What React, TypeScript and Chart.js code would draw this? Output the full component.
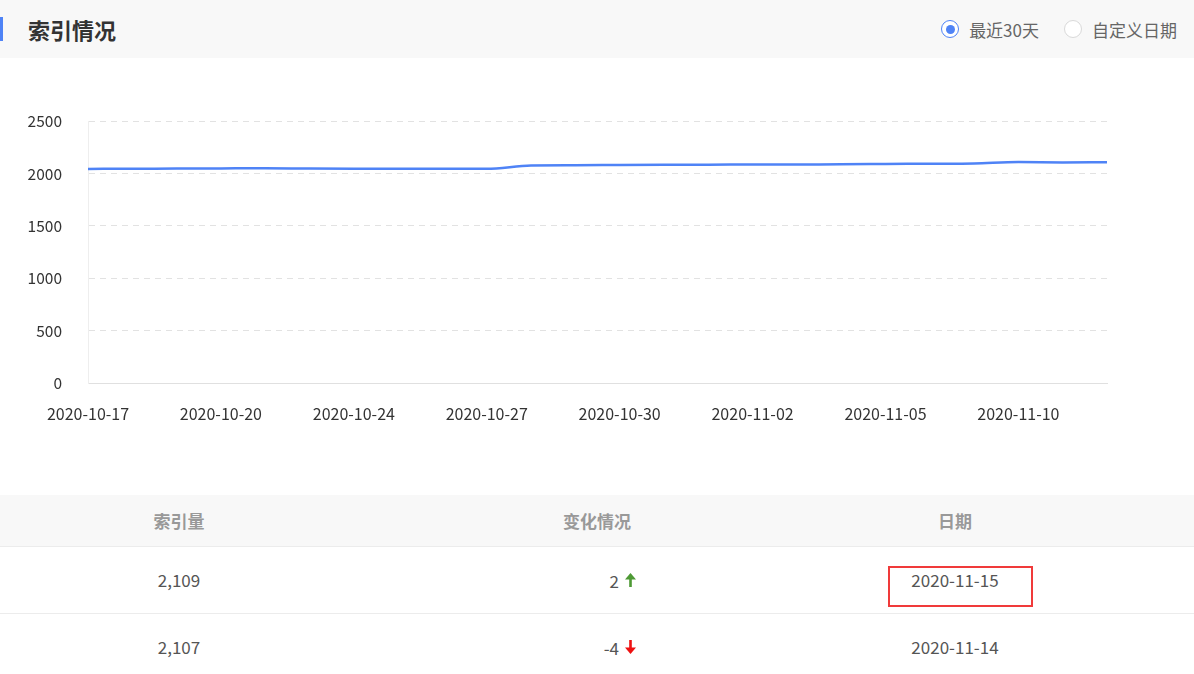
import React, { useEffect, useRef } from "react";
import { Chart, registerables } from "chart.js";

Chart.register(...registerables);

const dates = [
  "2020-10-17", "2020-10-18", "2020-10-19", "2020-10-20", "2020-10-21", "2020-10-22",
  "2020-10-24", "2020-10-25", "2020-10-26", "2020-10-27", "2020-10-28", "2020-10-29",
  "2020-10-30", "2020-10-31", "2020-11-01", "2020-11-02", "2020-11-03", "2020-11-04",
  "2020-11-05", "2020-11-07", "2020-11-08", "2020-11-10", "2020-11-14", "2020-11-15",
];
const indexCounts = [
  2045, 2047, 2048, 2050, 2052, 2048, 2046, 2046, 2046, 2046, 2078, 2080,
  2083, 2085, 2086, 2087, 2088, 2089, 2092, 2095, 2098, 2111, 2107, 2109,
];
const yTicks = [0, 500, 1000, 1500, 2000, 2500];

const tableHeaders = ["索引量", "变化情况", "日期"];
const tableRows = [
  { count: "2,109", change: "2", up: true, date: "2020-11-15", boxed: true },
  { count: "2,107", change: "-4", up: false, date: "2020-11-14", boxed: false },
];

const FONT = '"Noto Sans CJK SC", "Noto Sans", sans-serif';

function LineChart() {
  const ref = useRef<HTMLCanvasElement | null>(null);
  useEffect(() => {
    if (!ref.current) return;
    const chart = new Chart(ref.current, {
      type: "line",
      data: {
        labels: dates,
        datasets: [
          {
            data: indexCounts,
            borderColor: "#4f83f6",
            borderWidth: 2.5,
            pointRadius: 0,
            fill: false,
            cubicInterpolationMode: "monotone",
          },
        ],
      },
      options: {
        animation: false,
        responsive: false,
        maintainAspectRatio: false,
        layout: { padding: { left: 0, right: 2, top: 0, bottom: 0 } },
        plugins: { legend: { display: false }, tooltip: { enabled: false } },
        scales: {
          x: {
            offset: false,
            afterFit: (axis: any) => {
              axis.height = 50;
            },
            grid: { display: false, drawTicks: false },
            border: { display: true, color: "#e0e0e0", width: 1 },
            ticks: {
              autoSkip: false,
              maxRotation: 0,
              minRotation: 0,
              padding: 21,
              color: "#333",
              font: { family: FONT, size: 16 },
              callback: (_v: any, i: number) => (i % 3 === 0 ? dates[i] : ""),
            },
          },
          y: {
            min: 0,
            max: 2500,
            afterFit: (axis: any) => {
              axis.width = 88;
            },
            afterBuildTicks: (axis: any) => {
              axis.ticks = yTicks.map((v) => ({ value: v }));
            },
            grid: {
              color: (ctx: any) => (ctx.tick && ctx.tick.value === 0 ? "rgba(0,0,0,0)" : "#e2e2e2"),
              drawTicks: false,
              lineWidth: 1,
            },
            border: { display: true, color: "#eeeeee", width: 1, dash: [6, 5] },
            ticks: {
              padding: 26,
              color: "#333",
              font: { family: FONT, size: 15.5 },
              callback: (v: any) => String(v),
            },
          },
        },
      },
    } as any);
    return () => chart.destroy();
  }, []);
  return <canvas ref={ref} width={1128} height={347} style={{ display: "block" }} />;
}

function Radio({ checked, label, first }: { checked: boolean; label: string; first?: boolean }) {
  return (
    <span style={{ display: "inline-flex", alignItems: "center", marginLeft: first ? 0 : 25 }}>
      <span
        style={{
          width: 18,
          height: 18,
          borderRadius: "50%",
          boxSizing: "border-box",
          border: checked ? "1px solid #4f83f6" : "1px solid #d9d9d9",
          background: "#fff",
          display: "inline-flex",
          alignItems: "center",
          justifyContent: "center",
          marginRight: 10,
        }}
      >
        {checked && <span style={{ width: 9, height: 9, borderRadius: "50%", background: "#4f83f6" }} />}
      </span>
      <span style={{ fontSize: 17, color: "#666", fontFamily: FONT }}>{label}</span>
    </span>
  );
}

function Arrow({ up }: { up: boolean }) {
  const color = up ? "#4e9a35" : "#ee1111";
  return (
    <svg width="13" height="16" viewBox="0 0 13 16" style={{ marginLeft: 5, display: "block" }}>
      {up ? (
        <g fill={color}>
          <polygon points="6.5,1 12,7.5 1,7.5" />
          <rect x="5.2" y="6" width="2.6" height="9" />
        </g>
      ) : (
        <g fill={color}>
          <polygon points="6.5,15 12,8.5 1,8.5" />
          <rect x="5.2" y="1" width="2.6" height="9" />
        </g>
      )}
    </svg>
  );
}

const colLeft = [0, 358, 836];
const colWidth = [358, 478, 238];

export default function App() {
  useEffect(() => {
    document.body.style.margin = "0";
    document.body.style.background = "#fff";
  }, []);
  return (
    <div style={{ position: "relative", width: 1194, height: 674, overflow: "hidden", fontFamily: FONT, background: "#fff" }}>
      <div style={{ position: "absolute", left: 0, top: 0, width: 1194, height: 58, background: "#f8f8f8" }}>
        <div style={{ position: "absolute", left: 0, top: 17, width: 3, height: 24, background: "#4f83f6" }} />
        <div style={{ position: "absolute", left: 28, top: 13, fontSize: 22, fontWeight: 700, color: "#333", lineHeight: "32px" }}>
          索引情况
        </div>
        <div style={{ position: "absolute", right: 17, top: 14, display: "flex", alignItems: "center", height: 30 }}>
          <Radio checked={true} label="最近30天" first />
          <Radio checked={false} label="自定义日期" />
        </div>
      </div>
      <div style={{ position: "absolute", left: 0, top: 86 }}>
        <LineChart />
      </div>
      <div style={{ position: "absolute", left: 0, top: 495, width: 1194, height: 51, background: "#f8f8f8", borderBottom: "1px solid #ececec" }}>
        {tableHeaders.map((h, i) => (
          <div
            key={h}
            style={{ position: "absolute", left: colLeft[i], width: colWidth[i], textAlign: "center", top: 13, fontSize: 17, fontWeight: 700, color: "#999" }}
          >
            {h}
          </div>
        ))}
      </div>
      {tableRows.map((r, i) => {
        const top = 547 + i * 67;
        return (
          <div key={i} style={{ position: "absolute", left: 0, top, width: 1194, height: 66, borderBottom: "1px solid #ececec" }}>
            <div style={{ position: "absolute", left: colLeft[0], width: colWidth[0], textAlign: "center", top: 20, fontSize: 17, color: "#555" }}>
              {r.count}
            </div>
            <div style={{ position: "absolute", right: 1194 - 637, top: 20, fontSize: 17, color: "#555", display: "flex", alignItems: "center", height: 26 }}>
              <span>{r.change}</span>
              <Arrow up={r.up} />
            </div>
            <div style={{ position: "absolute", left: colLeft[2], width: colWidth[2], textAlign: "center", top: 20, fontSize: 17, color: "#555" }}>
              {r.date}
            </div>
            {r.boxed && (
              <div style={{ position: "absolute", left: 888, top: 19, width: 145, height: 41, boxSizing: "border-box", border: "2px solid #f03a3a" }} />
            )}
          </div>
        );
      })}
    </div>
  );
}
